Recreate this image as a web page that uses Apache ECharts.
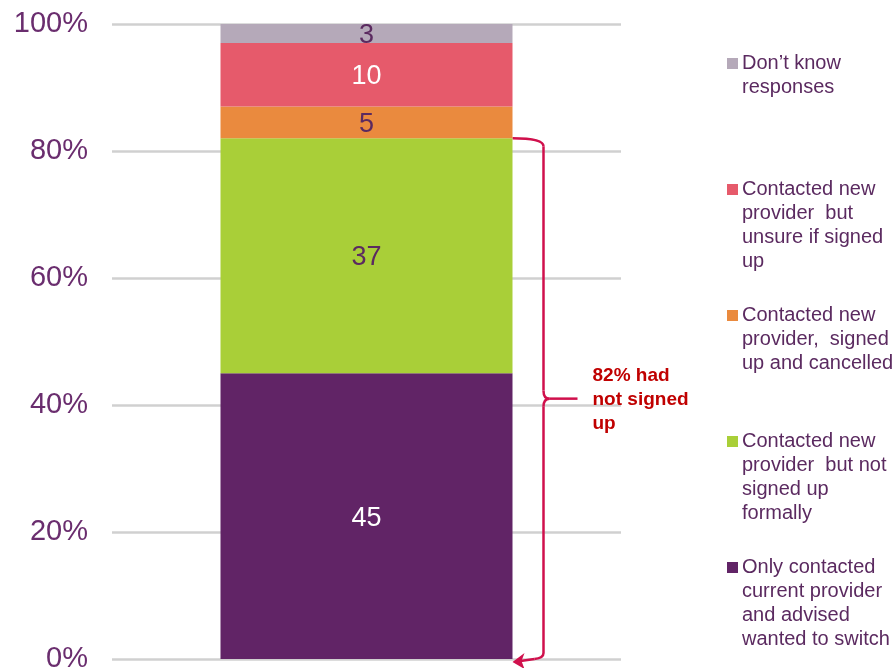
<!DOCTYPE html>
<html>
<head>
<meta charset="utf-8">
<script src="https://cdn.jsdelivr.net/npm/echarts@6/dist/echarts.min.js"></script>
<style>
  html, body { margin: 0; padding: 0; background: #fff; }
  #chart { width: 896px; height: 668px; }
</style>
</head>
<body>
<div id="chart"></div>
<script>
// stacked from bottom to top
const seriesNames = [
  'Only contacted\ncurrent provider\nand advised\nwanted to switch',
  'Contacted new\nprovider  but not\nsigned up\nformally',
  'Contacted new\nprovider,  signed\nup and cancelled',
  'Contacted new\nprovider  but\nunsure if signed\nup',
  'Don\u2019t know\nresponses'
];
const seriesValues = [45, 37, 5, 10, 3];
const seriesColors = ['#612466', '#a9cf38', '#ea8a3e', '#e65a6b', '#b5a9b9'];
const labelColors = ['#ffffff', '#5b2a60', '#5b2a60', '#ffffff', '#5b2a60'];
const categories = ['All'];
const notSignedShare = 82;
const annotationText = '82% had\nnot signed\nup';

const FONT = "'Liberation Sans', Arial, sans-serif";
const barWidth = 292;
const RED = '#d0104c';

const chart = echarts.init(document.getElementById('chart'));

const series = seriesNames.map((name, i) => ({
  name: name,
  type: 'bar',
  stack: 'total',
  barWidth: barWidth,
  data: [seriesValues[i]],
  itemStyle: { color: seriesColors[i] },
  label: {
    show: true,
    position: 'inside',
    color: labelColors[i],
    fontFamily: FONT,
    fontSize: 27,
    offset: [0, 2]
  },
  emphasis: { disabled: true }
}));

chart.setOption({
  animation: false,
  grid: { left: 112, right: 275, top: 24, bottom: 9, outerBoundsMode: 'none' },
  xAxis: {
    type: 'category',
    data: categories,
    axisLine: { show: false },
    axisTick: { show: false },
    axisLabel: { show: false }
  },
  yAxis: {
    type: 'value',
    min: 0,
    max: 100,
    interval: 20,
    axisLine: { show: false },
    axisTick: { show: false },
    axisLabel: {
      formatter: '{value}%',
      color: '#6a2d6e',
      fontFamily: FONT,
      fontSize: 29,
      margin: 24
    },
    splitLine: { lineStyle: { color: '#d0d0d0', width: 2.5 } }
  },
  series: series
});

// legend + bracket annotation, placed from the chart's own scales
const toY = (v) => chart.convertToPixel({ yAxisIndex: 0 }, v);
const bx = chart.convertToPixel({ xAxisIndex: 0 }, 0) + barWidth / 2;
const y82 = toY(notSignedShare);
const y0 = toY(0);
const yTip = toY(notSignedShare / 2);
const vx = bx + 31;

const legendItems = [];
for (let i = seriesNames.length - 1, k = 0; i >= 0; i--, k++) {
  const top = 51 + k * 126;
  legendItems.push({
    type: 'rect',
    shape: { x: 727, y: top + 7, width: 11, height: 11 },
    style: { fill: seriesColors[i] }
  });
  legendItems.push({
    type: 'text',
    x: 742,
    y: top,
    style: {
      text: seriesNames[i],
      fill: '#5b2a60',
      font: '20px ' + FONT,
      lineHeight: 24,
      verticalAlign: 'top'
    }
  });
}

const stroke = { fill: null, stroke: RED, lineWidth: 2.5 };
const seg = (x1, y1, x2, y2) => ({ type: 'line', shape: { x1, y1, x2, y2 }, style: stroke });
const curve = (x1, y1, cx, cy, x2, y2) => ({
  type: 'bezierCurve',
  shape: { x1, y1, cpx1: cx, cpy1: cy, x2, y2 },
  style: stroke
});

const bracket = [
  curve(bx, y82, vx, y82, vx, y82 + 8),
  seg(vx, y82 + 8, vx, yTip - 8),
  curve(vx, yTip - 8, vx, yTip, vx + 6, yTip),
  seg(vx + 6, yTip, vx + 34, yTip),
  curve(vx + 6, yTip, vx, yTip, vx, yTip + 8),
  seg(vx, yTip + 8, vx, y0 - 6),
  curve(vx, y0 - 6, vx, y0 - 1, vx - 9, y0),
  seg(vx - 9, y0, bx + 8, y0 + 2),
  {
    type: 'polygon',
    shape: { points: [[bx, y0 + 3], [bx + 12, y0 - 6], [bx + 9, y0 + 2], [bx + 12, y0 + 10]] },
    style: { fill: RED }
  },
  {
    type: 'text',
    x: vx + 49,
    y: yTip - 35,
    style: {
      text: annotationText,
      fill: '#c00000',
      font: 'bold 19px ' + FONT,
      lineHeight: 24,
      verticalAlign: 'top'
    }
  }
];

chart.setOption({ graphic: legendItems.concat(bracket) });
</script>
</body>
</html>
